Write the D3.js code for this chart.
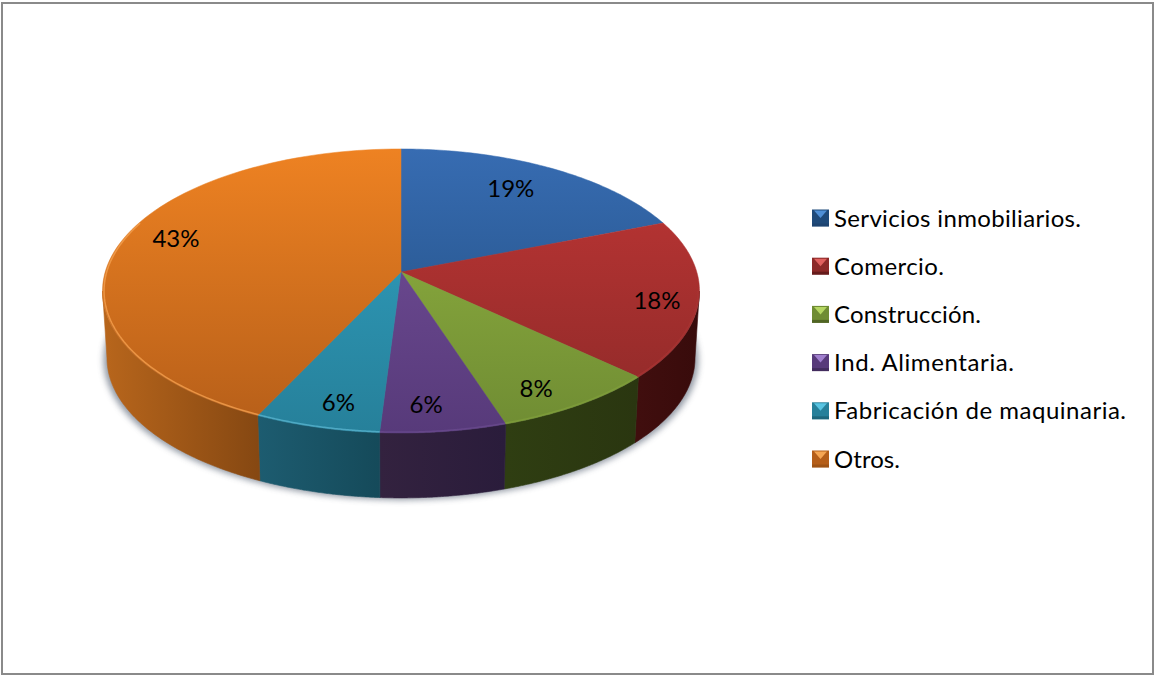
<!DOCTYPE html>
<html>
<head>
<meta charset="utf-8">
<script src="https://cdn.jsdelivr.net/npm/d3@7"></script>
<style>
html,body{margin:0;padding:0;background:#fff}
svg{display:block}
text{font-family:Lato,"Open Sans",sans-serif;fill:#000}
</style>
</head>
<body>
<svg id="chart" width="1154" height="675"></svg>
<script>
// Sector shares, in percent, clockwise from twelve o'clock
const categories = ["Servicios inmobiliarios.", "Comercio.", "Construcción.", "Ind. Alimentaria.", "Fabricación de maquinaria.", "Otros."];
const shares = [19, 18, 8, 6, 6, 43];

// Fills per sector: face top, face bottom, rim, wall left, wall right, swatch peak
const faceTop = ["#376cb2", "#c03635", "#93b441", "#75509b", "#31a2c2", "#ee8222"];
const faceBottom = ["#1f4a7a", "#8c2928", "#6f8c33", "#573a7a", "#26809a", "#b55e19"];
const rimColor = ["#2f5f9a", "#a83332", "#7f9e3a", "#6a4a8e", "#58b4cf", "#f4a04f"];
const wallLeft = ["#1d3f66", "#400e0e", "#2f3e12", "#33223f", "#1d5c70", "#b8661c"];
const wallRight = ["#1d3f66", "#380b0b", "#2a3610", "#2a1c3b", "#154a5a", "#864812"];
const swatchPeak = ["#4f8fd6", "#e0605e", "#b5d662", "#a07fce", "#58c4e2", "#f5a552"];

// Where each percentage sits inside its slice (fraction of radius, degrees off the mid-angle)
const labelRadius = [0.768, 0.865, 0.853, 0.848, 0.85, 0.826];
const labelTurn = [-2.5, 2.3, 3.6, 2.1, -1.6, 5.2];
// Set widths of the legend entries, in pixels
const legendWidths = [247, 110, 147, 180, 292, 66];

const svg = d3.select("#chart");
const defs = svg.append("defs");

// The frame around the whole chart
svg.append("rect").attr("x", 2).attr("y", 3).attr("width", 1151).attr("height", 671)
  .attr("fill", "#fff").attr("stroke", "#8a8a8a").attr("stroke-width", 2);

// Perspective disc: unit-circle point to screen, apex at (cx, cy)
const cx = 401, cy = 272, k = 0.1338, ax = 295.8, ay = 139.5;
const depth = 67, baseScale = 0.985, baseMidY = 291;
const scaleU = d3.scaleLinear().domain([-1, 1]).range([-ax, ax]);
const scaleV = d3.scaleLinear().domain([-1, 1]).range([ay, -ay]);
function project(angle, r) {
  const u = r * Math.sin(angle), v = r * Math.cos(angle), w = 1 + k * v;
  return [cx + scaleU(u) / w, cy + scaleV(v) / w];
}
function projectBase(angle) {
  const p = project(angle, 1);
  return [cx + (p[0] - cx) * baseScale, baseMidY + (p[1] - baseMidY) * baseScale + depth];
}
const line = d3.line();
const arcPoints = (a0, a1, fn) => d3.range(0, 1.0001, 1 / 80).map(t => fn(a0 + (a1 - a0) * t));

const pie = d3.pie().sort(null).value(d => d)(shares);
const frontStart = Math.PI / 2 + Math.asin(k), frontEnd = 2 * Math.PI - frontStart;

// Soft shadow under the disc
defs.append("filter").attr("id", "shadowBlur").attr("x", "-10%").attr("y", "-10%").attr("width", "120%").attr("height", "120%")
  .append("feGaussianBlur").attr("stdDeviation", 3);
svg.append("path")
  .attr("d", line(arcPoints(0, 2 * Math.PI, a => {
    const p = projectBase(a);
    return [cx + (p[0] - cx) * 1.012, p[1] + 2];
  })) + "Z")
  .attr("fill", "#7f8794").attr("opacity", 0.85).attr("filter", "url(#shadowBlur)");

// Gradients for every sector, and the outer walls
pie.forEach((s, i) => {
  const g = defs.append("linearGradient").attr("id", "face" + i).attr("gradientUnits", "userSpaceOnUse")
    .attr("x1", 0).attr("x2", 0).attr("y1", 149).attr("y2", 433);
  g.append("stop").attr("offset", 0).attr("stop-color", faceTop[i]);
  g.append("stop").attr("offset", 1).attr("stop-color", faceBottom[i]);

  const a0 = Math.max(s.startAngle, frontStart), a1 = Math.min(s.endAngle, frontEnd);
  if (a1 <= a0) return;
  const x0 = project(a0, 1)[0], x1 = project(a1, 1)[0];
  const wg = defs.append("linearGradient").attr("id", "wall" + i).attr("gradientUnits", "userSpaceOnUse")
    .attr("x1", Math.min(x0, x1)).attr("x2", Math.max(x0, x1)).attr("y1", 0).attr("y2", 0);
  wg.append("stop").attr("offset", 0).attr("stop-color", wallLeft[i]);
  wg.append("stop").attr("offset", 1).attr("stop-color", wallRight[i]);

  const top = arcPoints(a0, a1, a => project(a, 1));
  const base = arcPoints(a1, a0, projectBase);
  svg.append("path").attr("d", line(top.concat(base)) + "Z")
    .attr("fill", `url(#wall${i})`).attr("stroke", `url(#wall${i})`).attr("stroke-width", 0.6);
});

// Top faces
pie.forEach((s, i) => {
  const rim = arcPoints(s.startAngle, s.endAngle, a => project(a, 1));
  svg.append("path").attr("d", line([[cx, cy], ...rim]) + "Z")
    .attr("fill", `url(#face${i})`).attr("stroke", `url(#face${i})`).attr("stroke-width", 0.5);
});

// Bevel highlight along the near edge of the disc
defs.append("filter").attr("id", "rimBlur").append("feGaussianBlur").attr("stdDeviation", 0.6);
const rimEnd = 1.62 * Math.PI;
pie.forEach((s, i) => {
  const a0 = Math.max(s.startAngle, frontStart), a1 = Math.min(s.endAngle, rimEnd);
  if (a1 <= a0) return;
  svg.append("path")
    .attr("d", line(arcPoints(a0, a1, a => project(a, 0.995))))
    .attr("fill", "none").attr("stroke", rimColor[i]).attr("stroke-width", 1.5)
    .attr("filter", "url(#rimBlur)").attr("opacity", 0.8);
});

// Percent labels
svg.append("g").selectAll("text").data(pie).join("text")
  .attr("transform", (s, i) => {
    const mid = (s.startAngle + s.endAngle) / 2 + labelTurn[i] * Math.PI / 180;
    const p = project(mid, labelRadius[i]);
    return `translate(${p[0]},${p[1]})`;
  })
  .attr("text-anchor", "middle").attr("dy", "0.36em")
  .attr("font-size", 24)
  .text(s => s.value + "%");

// Legend with bevelled swatches
const legendY = d3.scalePoint().domain(categories).range([218, 459]);
const swatch = 17;
const legend = svg.append("g").selectAll("g").data(categories).join("g")
  .attr("transform", d => `translate(812,${legendY(d) - swatch / 2})`);
legend.append("rect").attr("width", swatch).attr("height", swatch)
  .attr("fill", (d, i) => faceBottom[i]);
legend.append("path")
  .attr("d", line([[2, 1], [swatch - 2, 1], [swatch / 2, swatch * 0.5]]) + "Z")
  .attr("fill", (d, i) => swatchPeak[i]);
legend.append("rect").attr("y", swatch - 3).attr("width", swatch).attr("height", 3)
  .attr("fill", (d, i) => wallRight[i]).attr("opacity", 0.45);
legend.append("text").attr("x", 22).attr("y", swatch / 2).attr("dy", "0.36em")
  .attr("font-size", 24)
  .attr("textLength", (d, i) => legendWidths[i]).attr("lengthAdjust", "spacing")
  .text(d => d);
</script>
</body>
</html>
